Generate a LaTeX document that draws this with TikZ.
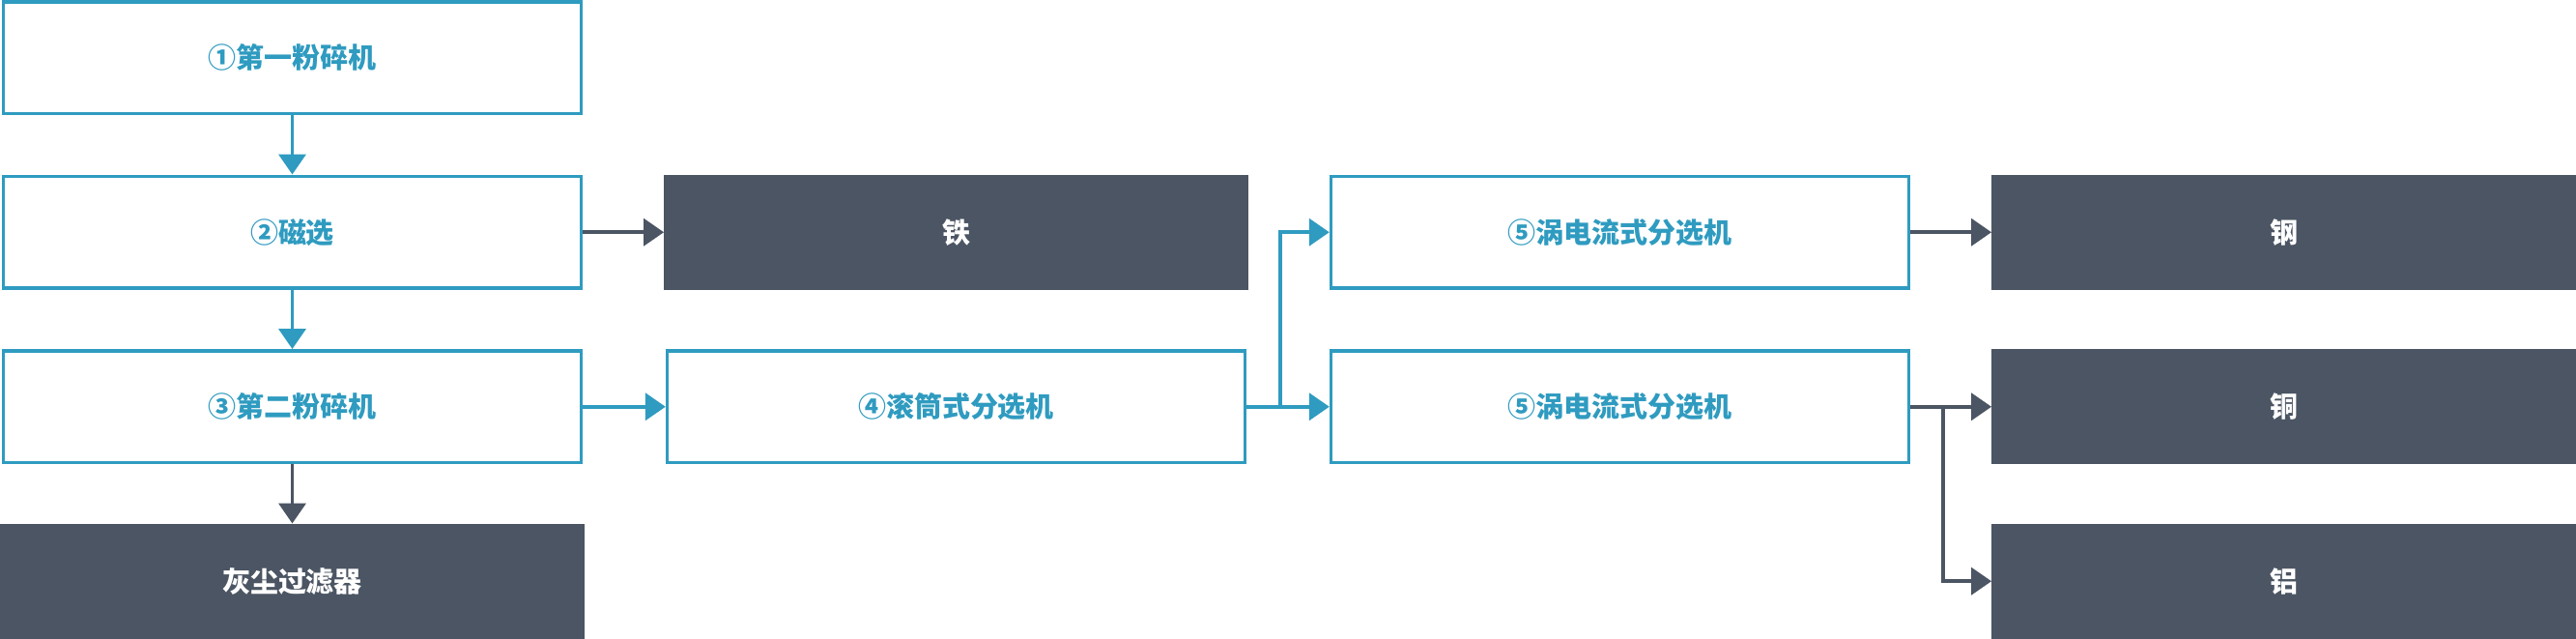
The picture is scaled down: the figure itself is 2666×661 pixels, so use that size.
\documentclass[tikz,border=0pt]{standalone}
\usepackage{fontspec}
\setmainfont{Noto Sans CJK SC}
\usetikzlibrary{arrows.meta}
\definecolor{flowblue}{HTML}{2F9BC0}
\definecolor{flowdark}{HTML}{4B5563}
\tikzset{
  stagebox/.style={draw=flowblue, line width=0.07cm, fill=white, text=flowblue,
    minimum width=11.96cm, minimum height=2.32cm, inner sep=0pt,
    font=\fontsize{16.5}{20}\selectfont\bfseries},
  outbox/.style={fill=flowdark, text=white,
    minimum width=12.1cm, minimum height=2.39cm, inner sep=0pt, outer sep=0pt,
    font=\fontsize{16.5}{20}\selectfont\bfseries},
  blueflow/.style={draw=flowblue, line width=0.075cm, -{Triangle[length=0.42cm, width=0.56cm]}},
  darkflow/.style={draw=flowdark, line width=0.075cm, -{Triangle[length=0.42cm, width=0.56cm]}},
}
\begin{document}
\begin{tikzpicture}[x=0.02cm, y=0.02cm]
  \useasboundingbox (0,0) rectangle (2666,-661);
  % first column
  \node[stagebox] (crushA) at (302.5,-59.75) {①第一粉碎机};
  \node[stagebox] (magnet) at (302.5,-240.25) {②磁选};
  \node[stagebox] (crushB) at (302.5,-420.75) {③第二粉碎机};
  \node[outbox] (dust) at (302.5,-601.25) {灰尘过滤器};
  % second column
  \node[outbox] (iron) at (989.5,-240.25) {铁};
  \node[stagebox] (drum) at (989.5,-420.75) {④滚筒式分选机};
  % third column
  \node[stagebox] (eddyA) at (1676.5,-240.25) {⑤涡电流式分选机};
  \node[stagebox] (eddyB) at (1676.5,-420.75) {⑤涡电流式分选机};
  % fourth column
  \node[outbox] (steel) at (2363.5,-240.25) {钢};
  \node[outbox] (copper) at (2363.5,-420.75) {铜};
  \node[outbox] (alu) at (2363.5,-601.25) {铝};
  % branch points
  \coordinate (forkA) at (1325,-420.75);
  \coordinate (forkB) at (2011,-420.75);

  \draw[blueflow] (crushA.south) -- (magnet.north);
  \draw[blueflow] (magnet.south) -- (crushB.north);
  \draw[darkflow] (crushB.south) -- (dust.north);
  \draw[darkflow] (magnet.east) -- (iron.west);
  \draw[blueflow] (crushB.east) -- (drum.west);
  \draw[blueflow] (drum.east) -- (eddyB.west);
  \draw[blueflow] (forkA) |- (eddyA.west);
  \draw[darkflow] (eddyA.east) -- (steel.west);
  \draw[darkflow] (eddyB.east) -- (copper.west);
  \draw[darkflow] (forkB) |- (alu.west);
\end{tikzpicture}
\end{document}
